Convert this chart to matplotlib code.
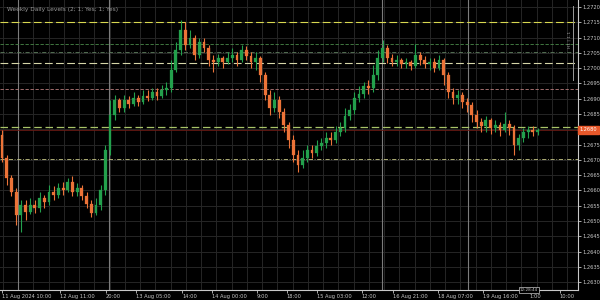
import matplotlib
matplotlib.use("Agg")
import matplotlib.pyplot as plt
import matplotlib.transforms as mtransforms
import numpy as np

# ---------------- data (hourly candles) ----------------
first_open = 1.26782
closes = [1.26706, 1.26641, 1.26595, 1.26520, 1.26553, 1.26530, 1.26553, 1.26543, 1.26576, 1.26562,
          1.26595, 1.26585, 1.26608, 1.26602, 1.26628, 1.26595, 1.26608, 1.26582, 1.26556, 1.26526,
          1.26553, 1.26602, 1.26733, 1.26847, 1.26896, 1.26870, 1.26896, 1.26883, 1.26903, 1.26889,
          1.26909, 1.26903, 1.26922, 1.26909, 1.26929, 1.26935, 1.26994, 1.27060, 1.27125, 1.27076,
          1.27099, 1.27043, 1.27086, 1.27066, 1.27027, 1.27020, 1.27033, 1.27020, 1.27033, 1.27043,
          1.27027, 1.27060, 1.27040, 1.27020, 1.27033, 1.26978, 1.26912, 1.26870, 1.26896, 1.26857,
          1.26814, 1.26765, 1.26716, 1.26683, 1.26706, 1.26733, 1.26723, 1.26746, 1.26755, 1.26772,
          1.26765, 1.26791, 1.26804, 1.26844, 1.26863, 1.26903, 1.26916, 1.26942, 1.26935, 1.26978,
          1.27033, 1.27066, 1.27033, 1.27020, 1.27027, 1.27014, 1.27020, 1.27007, 1.27043, 1.27027,
          1.27014, 1.27020, 1.27001, 1.27027, 1.26978, 1.26922, 1.26903, 1.26912, 1.26889, 1.26880,
          1.26847, 1.26824, 1.26811, 1.26831, 1.26804, 1.26814, 1.26798, 1.26817, 1.26804, 1.26749,
          1.26772, 1.26791, 1.26798, 1.26791, 1.26798]
highs = [1.26798, 1.26716, 1.26651, 1.26608, 1.26569, 1.26569, 1.26576, 1.26569, 1.26595, 1.26585,
         1.26618, 1.26615, 1.26625, 1.26628, 1.26641, 1.26647, 1.26625, 1.26618, 1.26595, 1.26569,
         1.26576, 1.26618, 1.26749, 1.26896, 1.26912, 1.26903, 1.26912, 1.26909, 1.26922, 1.26912,
         1.26929, 1.26929, 1.26935, 1.26935, 1.26945, 1.26955, 1.27027, 1.27086, 1.27158, 1.27151,
         1.27125, 1.27109, 1.27099, 1.27099, 1.27076, 1.27043, 1.27046, 1.27040, 1.27053, 1.27066,
         1.27053, 1.27076, 1.27073, 1.27053, 1.27053, 1.27040, 1.26988, 1.26929, 1.26922, 1.26909,
         1.26870, 1.26824, 1.26782, 1.26733, 1.26733, 1.26749, 1.26749, 1.26765, 1.26772, 1.26791,
         1.26791, 1.26811, 1.26824, 1.26870, 1.26883, 1.26922, 1.26942, 1.26955, 1.26961, 1.27010,
         1.27060, 1.27092, 1.27076, 1.27046, 1.27043, 1.27033, 1.27033, 1.27027, 1.27079, 1.27053,
         1.27040, 1.27033, 1.27033, 1.27043, 1.27033, 1.26988, 1.26935, 1.26929, 1.26922, 1.26903,
         1.26889, 1.26863, 1.26837, 1.26844, 1.26837, 1.26831, 1.26824, 1.26857, 1.26831, 1.26814,
         1.26785, 1.26804, 1.26811, 1.26811, 1.26804]
lows = [1.26693, 1.26618, 1.26582, 1.26487, 1.26464, 1.26504, 1.26523, 1.26526, 1.26530, 1.26543,
        1.26553, 1.26569, 1.26576, 1.26585, 1.26595, 1.26582, 1.26582, 1.26569, 1.26543, 1.26513,
        1.26520, 1.26536, 1.26585, 1.26716, 1.26831, 1.26857, 1.26857, 1.26870, 1.26876, 1.26876,
        1.26883, 1.26893, 1.26896, 1.26896, 1.26903, 1.26912, 1.26922, 1.26988, 1.27043, 1.27060,
        1.27066, 1.27027, 1.27033, 1.27053, 1.27007, 1.26988, 1.27007, 1.27001, 1.27014, 1.27020,
        1.27007, 1.27020, 1.27027, 1.27001, 1.26994, 1.26955, 1.26896, 1.26847, 1.26857, 1.26837,
        1.26791, 1.26739, 1.26693, 1.26661, 1.26674, 1.26693, 1.26706, 1.26713, 1.26733, 1.26739,
        1.26749, 1.26755, 1.26778, 1.26791, 1.26831, 1.26850, 1.26889, 1.26903, 1.26916, 1.26922,
        1.26961, 1.27020, 1.27017, 1.27007, 1.27007, 1.27001, 1.27001, 1.26994, 1.27001, 1.27010,
        1.27001, 1.26994, 1.26988, 1.26994, 1.26945, 1.26903, 1.26883, 1.26883, 1.26870, 1.26857,
        1.26824, 1.26804, 1.26791, 1.26791, 1.26785, 1.26791, 1.26778, 1.26791, 1.26782, 1.26716,
        1.26733, 1.26759, 1.26772, 1.26778, 1.26782]

# horizontal level lines (price, colour, style)
level_prices = [1.27151, 1.27079, 1.27053, 1.27017, 1.26932, 1.26808, 1.26703]
level_colors = ["#d8d850", "#4a8a4a", "#5f7f5f", "#d6d6a8", "#b87c7c", "#a8c468", "#c8c888"]
level_styles = [(0, (7, 3)), (0, (4, 2)), (0, (5, 2, 1, 2)), (0, (7, 3)), (0, (4, 2)), (0, (6, 3)), (0, (5, 2, 1, 2))]
level_widths = [0.8, 0.6, 0.6, 0.8, 0.6, 0.9, 0.6]

y_tick_values = [1.2630, 1.2635, 1.2640, 1.2645, 1.2650, 1.2655, 1.2660, 1.2665, 1.2670, 1.2675,
                 1.2680, 1.2685, 1.2690, 1.2695, 1.2700, 1.2705, 1.2710, 1.2715, 1.2720]

x_tick_pos = [0, 12.3, 22.1, 28.5, 38.3, 44.7, 54.3, 60.6, 67.0, 76.6, 83.2, 92.8, 102.3, 112.3, 118.7]
x_tick_labels = ["11 Aug 2024 10:00", "12 Aug 11:00", "20:00", "13 Aug 05:00", "14:00",
                 "14 Aug 00:00", "9:00", "18:00", "15 Aug 03:00", "12:00", "16 Aug 21:00",
                 "18 Aug 07:00", "19 Aug 16:00", "1:00", "10:00"]
separator_pos = [3.4, 22.8, 80.9, 99.1]

# ---------------- figure ----------------
BG = "#000000"
FG = "#c8c8c8"
BULL = "#23a04c"
BEAR = "#ec7338"

fig = plt.figure(figsize=(6, 3), dpi=100, facecolor=BG)
ax = fig.add_axes([0, 0.0333, 0.9633, 0.9667], facecolor=BG)

n = len(closes)
x = np.arange(n)
opens = np.array([first_open] + closes[:-1])
closes_a = np.array(closes)
highs_a = np.array(highs)
lows_a = np.array(lows)

xmin, xmax = -0.43, 122.6
ymin, ymax = 1.26274, 1.27223
ax.set_xlim(xmin, xmax)
ax.set_ylim(ymin, ymax)

# grid
for v in y_tick_values:
    ax.axhline(v, color="#262626", lw=0.7, zorder=0)
for gx in np.arange(0.2, xmax, 3.245):
    ax.axvline(gx, color="#262626", lw=0.7, zorder=0)
for sx in separator_pos:
    ax.axvline(sx, color="#7c7c7c", lw=0.8, zorder=0.5)

# levels
for p, c, s, w in zip(level_prices, level_colors, level_styles, level_widths):
    ax.axhline(p, color=c, ls=s, lw=w, zorder=1)

# bid line
ax.axhline(closes[-1], color="#6a1a14", lw=0.6, zorder=1)

# candles
colors = np.where(closes_a >= opens, BULL, BEAR)
ax.vlines(x, lows_a, highs_a, colors=colors, lw=0.8, zorder=2)
bottoms = np.minimum(opens, closes_a)
heights = np.maximum(np.abs(closes_a - opens), 0.000012)
ax.bar(x, heights, bottom=bottoms, width=0.6, color=colors, edgecolor=colors, lw=0.2, zorder=3)

# axes styling
for side in ["left", "top"]:
    ax.spines[side].set_visible(False)
for side in ["right", "bottom"]:
    ax.spines[side].set_color(FG)
    ax.spines[side].set_linewidth(0.8)

ax.yaxis.tick_right()
ax.set_yticks(y_tick_values)
ax.set_yticklabels(["" if abs(v - closes[-1]) < 0.0002 else f"{v:.4f}" for v in y_tick_values])
ax.set_xticks(x_tick_pos)
ax.set_xticklabels(x_tick_labels, ha="left")
ax.tick_params(axis="both", colors=FG, labelsize=3.7, length=2, width=0.6, pad=1.2, direction="out")
for lab in ax.get_xticklabels() + ax.get_yticklabels():
    lab.set_color(FG)

# title text
ax.text(0.012, 0.975, "Weekly Daily Levels (2; 1; Yes; 1; Yes)", transform=ax.transAxes,
        color="#9a9a9a", fontsize=4.2, va="top", ha="left")

# current price box on the right axis
trans = mtransforms.blended_transform_factory(ax.transAxes, ax.transData)
ax.text(1.003, closes[-1], f"{closes[-1]:.4f}", transform=trans, color="white", fontsize=3.6,
        va="center", ha="left", clip_on=False,
        bbox=dict(boxstyle="square,pad=0.3", fc="#e8582a", ec="#e8582a"))

# small vertical scale marker near the right edge
ax.plot([0.9915, 0.9915], [1.27205, 1.26960], transform=trans, color="#9a9a9a", lw=0.7, clip_on=False)
ax.text(0.986, 1.27095, "H1 | 1.1", transform=trans, color="#9a9a9a", fontsize=3.2,
        rotation=90, va="center", ha="center")

# small time box at the bottom
ax.text(112.2, ymin, "12:28:44", color=FG, fontsize=3.0, ha="center", va="center",
        bbox=dict(boxstyle="square,pad=0.25", fc=BG, ec=FG, lw=0.5), zorder=5, clip_on=False)

fig.savefig("out.png", dpi=100, facecolor=BG)
